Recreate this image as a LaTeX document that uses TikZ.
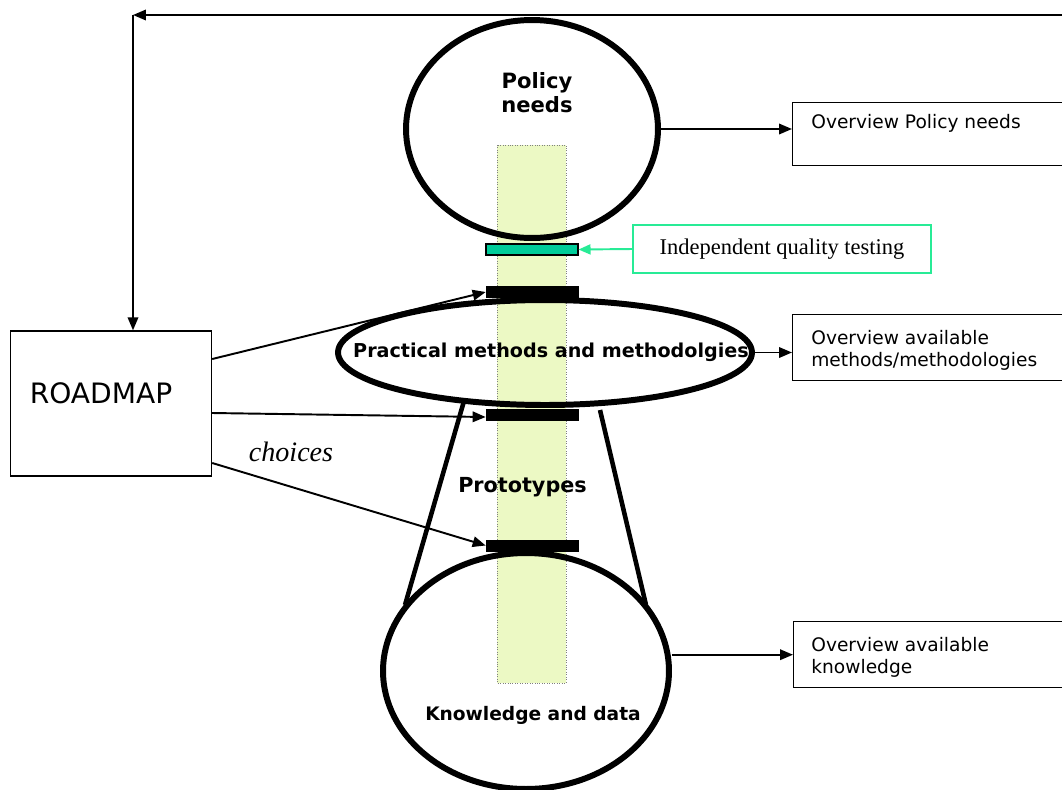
\documentclass[tikz,border=0pt]{standalone}
\usepackage{fontspec}
\setmainfont{Liberation Serif}
\setsansfont{DejaVu Sans}
\usetikzlibrary{shapes.geometric,arrows.meta}

\definecolor{columnfill}{RGB}{236,249,196}
\definecolor{testfill}{RGB}{0,204,153}
\definecolor{testline}{RGB}{40,235,150}

\begin{document}
\begin{tikzpicture}[x=0.02cm, y=-0.02cm,
    bubble/.style={draw, ellipse, line width=3.4pt, inner sep=0pt},
    plug/.style={draw, fill=black, minimum width=1.84cm, minimum height=0.22cm, inner sep=0pt},
    outbox/.style={draw, line width=0.8pt, minimum width=5.6cm, anchor=north west, inner sep=0pt},
    arrow/.style={line width=1.1pt, -{Triangle[length=0.26cm, width=0.21cm]}},
    boldtext/.style={font=\sffamily\bfseries\fontsize{#1}{14}\selectfont, align=center},
    boxtext/.style={font=\sffamily\fontsize{10.6}{12.6}\selectfont, align=left, anchor=north west, inner sep=0pt}]
  \useasboundingbox (0, 0) rectangle (1062, 789);

  % Prototype column
  \draw [draw=gray, densely dotted, fill=columnfill] (497, 145) rectangle (566, 683);

  % Funnel
  \draw [line width=2.6pt] (464, 401) -- (405, 605);
  \draw [line width=2.6pt] (600, 410) -- (646, 605);

  % Bubbles
  \node [bubble, minimum width=5.04cm, minimum height=4.36cm] (policy) at (532, 129) {};
  \node [boldtext=12] (policylabel) at (537, 92.5) {Policy\\needs};
  \node [bubble, minimum width=8.28cm, minimum height=2.1cm] (practical) at (545, 352.5) {};
  \node [boldtext=10.9] (practicallabel) at (551, 352) {Practical methods and methodolgies};
  \node [boldtext=11.8] (prototypes) at (522.5, 487) {Prototypes};
  \node [bubble, minimum width=5.72cm, minimum height=4.72cm] (know) at (526, 671) {};
  \node [boldtext=10.6] (knowlabel) at (533, 715) {Knowledge and data};

  % Plugs
  \node [plug, fill=testfill, line width=0.6pt] (test) at (532, 249.5) {};
  \node [plug] (plugA) at (532, 292) {};
  \node [plug] (plugB) at (532, 414.5) {};
  \node [plug] (plugC) at (532, 545.5) {};

  % Quality testing
  \node [draw=testline, line width=1pt, minimum width=5.96cm, minimum height=0.96cm,
    font=\fontsize{12.8}{15}\selectfont] (quality) at (782, 249) {Independent quality testing};
  \draw [line width=1.1pt, draw=testline, -{Triangle[length=0.24cm, width=0.2cm]}]
        (quality.west) -- (test.east);

  % Roadmap
  \node [draw, line width=0.8pt, minimum width=4.02cm, minimum height=2.9cm] (road) at (111, 403.5) {};
  \node [font=\sffamily\fontsize{16}{19}\selectfont] (roadlabel) at (101, 393) {ROADMAP};
  \coordinate (corner) at (133, 15);
  \coordinate (far) at (1070, 15);
  \draw [arrow] (far) -- (corner);
  \draw [arrow] (corner) -- (corner |- road.north);

  % Choices
  \draw [arrow] ([yshift=0.89cm]road.east) -- (plugA.west);
  \draw [arrow] ([yshift=-0.19cm]road.east) -- ([yshift=-0.05cm]plugB.west);
  \draw [arrow] ([yshift=-1.19cm]road.east) -- (plugC.west);
  \node [font=\itshape\fontsize{16}{19}\selectfont] (choices) at (291, 452) {choices};

  % Overviews
  \node [outbox, minimum height=1.26cm] (polbox) at (792, 102) {};
  \node [boxtext] (poltext) at (811, 114) {Overview Policy needs};
  \node [outbox, minimum height=1.32cm] (methbox) at (792, 314) {};
  \node [boxtext] (methtext) at (811, 330) {Overview available\\methods/methodologies};
  \node [outbox, minimum height=1.32cm] (knowbox) at (793, 621) {};
  \node [boxtext] (knowtext) at (811, 637) {Overview available\\knowledge};
  \draw [arrow] (policy.east) -- (policy.east -| polbox.west);
  \draw [arrow] (practical.east) -- (practical.east -| methbox.west);
  \draw [arrow] (know.east |- knowbox.west) -- (knowbox.west);
\end{tikzpicture}
\end{document}
